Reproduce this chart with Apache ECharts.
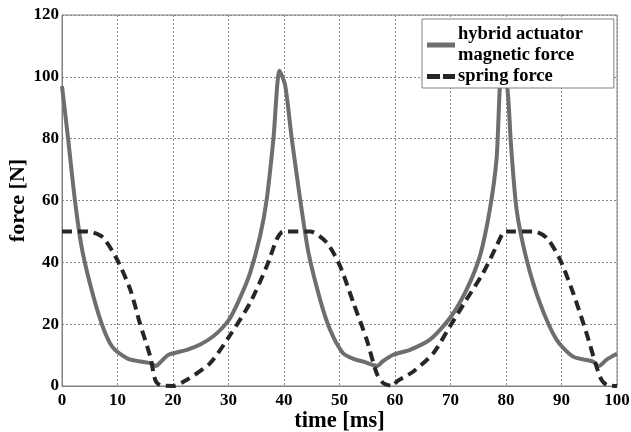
<!DOCTYPE html>
<html>
<head>
<meta charset="utf-8">
<script src="https://cdn.jsdelivr.net/npm/echarts@6/dist/echarts.min.js"></script>
<style>
html,body{margin:0;padding:0;background:#fff;}
#chart{width:631px;height:432px;}
</style>
</head>
<body>
<div id="chart"></div>
<script>
// ---- data ----
const seriesNames = ['hybrid actuator\nmagnetic force', 'spring force'];
const xTicks = [0, 10, 20, 30, 40, 50, 60, 70, 80, 90, 100];
const yTicks = [0, 20, 40, 60, 80, 100, 120];

const magTime = [0, 1.1, 2.3, 3.5, 5.0, 7.1, 9.0, 11.7, 13.8, 15.9, 16.9, 18.0, 19.2, 22.5, 25.0, 27.2, 29.0, 30.3, 32.2, 33.9, 35.7, 36.9, 38.1, 39.2, 40.2, 41.4, 42.9, 44.4, 46.5, 48.3, 50.6, 52.5, 54.3, 56.8, 57.8, 59.7, 62.7, 66.3, 69.9, 72.9, 75.3, 77.1, 78.3, 79.2, 80.2, 80.9, 81.9, 83.7, 86.1, 89.1, 92.1, 95.7, 96.7, 98.2, 100];
const magForce = [97, 80, 60.5, 45.3, 33.4, 20.4, 12.8, 9.0, 8.0, 7.4, 6.5, 8.2, 10.1, 11.7, 13.5, 16.0, 19.0, 22.0, 29.0, 36.6, 48.6, 60.5, 80.0, 102.0, 97.3, 80.0, 60.5, 43.2, 28.0, 18.2, 10.7, 8.8, 7.9, 6.5, 8.0, 10.1, 11.7, 15.0, 22.0, 31.2, 42.0, 57.2, 73.5, 101.5, 97.0, 78.0, 57.2, 41.0, 26.9, 15.0, 9.5, 7.9, 6.4, 8.6, 10.4];

const springTime = [0, 4.0, 5.5, 7.4, 9.9, 12.3, 14.0, 15.9, 16.8, 17.7, 20.0, 22.5, 26.7, 30.3, 33.9, 36.9, 38.7, 39.6, 40.2, 44.7, 47.7, 50.1, 52.5, 54.9, 56.7, 57.9, 59.7, 60.3, 63.3, 66.9, 69.9, 72.9, 75.9, 78.3, 79.5, 80.1, 84.9, 87.3, 89.7, 92.1, 94.5, 96.3, 97.2, 98.2, 100];
const springForce = [50, 50, 49.7, 48.0, 41.0, 31.2, 20.5, 9.5, 2.0, 0.3, 0, 2.0, 7.4, 16.5, 26.9, 38.8, 47.5, 49.8, 50, 50, 46.4, 38.8, 26.9, 15.0, 4.1, 0.9, 0, 1.4, 4.7, 10.6, 19.3, 28.0, 36.6, 45.3, 49.7, 50, 50, 48.0, 41.0, 30.1, 17.1, 6.3, 2.0, 0.3, 0];

const magData = magTime.map((t, i) => [t, magForce[i]]);
const springData = springTime.map((t, i) => [t, springForce[i]]);

const FONT = '"Liberation Serif", "DejaVu Serif", serif';
const chart = echarts.init(document.getElementById('chart'), null, {renderer: 'canvas'});
chart.setOption({
  animation: false,
  backgroundColor: '#fff',
  grid: {left: 62, right: 14, top: 15, bottom: 46, show: true, borderColor: '#808080', borderWidth: 1, backgroundColor: 'transparent', containLabel: false, outerBoundsMode: 'none'},
  legend: {
    left: 422, top: 19,
    orient: 'vertical',
    backgroundColor: '#fff',
    borderColor: '#808080', borderWidth: 1, borderRadius: 0,
    padding: [5, 31, 1, 5],
    itemGap: 0,
    itemWidth: 28, itemHeight: 5,
    textStyle: {fontFamily: FONT, fontWeight: 'bold', fontSize: 18.5, color: '#000', lineHeight: 21, padding: [0,0,0,-2]},
    data: [
      {name: seriesNames[0], icon: 'path://M0,0L28,0L28,5L0,5Z'},
      {name: seriesNames[1], icon: 'path://M0,0L13,0L13,5L0,5Z M16,0L28,0L28,5L16,5Z'}
    ]
  },
  xAxis: {
    type: 'value', min: 0, max: 100, interval: 10,
    name: 'time [ms]', nameLocation: 'middle', nameGap: 24, nameMoveOverlap: false,
    nameTextStyle: {fontFamily: FONT, fontWeight: 'bold', fontSize: 22.5, color: '#000'},
    axisLine: {show: true, lineStyle: {color: '#808080', width: 1}},
    axisTick: {show: false},
    axisLabel: {fontFamily: FONT, fontWeight: 'bold', fontSize: 17, color: '#000', margin: 6},
    splitLine: {show: true, lineStyle: {color: '#888', width: 1, type: [2, 2]}}
  },
  yAxis: {
    type: 'value', min: 0, max: 120, interval: 20,
    name: 'force [N]', nameLocation: 'middle', nameGap: 33, nameMoveOverlap: false,
    nameTextStyle: {fontFamily: FONT, fontWeight: 'bold', fontSize: 22, color: '#000'},
    axisLine: {show: true, lineStyle: {color: '#808080', width: 1}},
    axisTick: {show: false},
    axisLabel: {fontFamily: FONT, fontWeight: 'bold', fontSize: 17, color: '#000', margin: 3},
    splitLine: {show: true, lineStyle: {color: '#888', width: 1, type: [2, 2]}}
  },
  series: [
    {
      name: seriesNames[0], type: 'line', data: magData,
      symbol: 'none', showSymbol: false, smooth: 0.25,
      lineStyle: {color: '#6e6e6e', width: 4},
      itemStyle: {color: '#6e6e6e'}
    },
    {
      name: seriesNames[1], type: 'line', data: springData,
      symbol: 'none', showSymbol: false, smooth: 0.25,
      lineStyle: {color: '#262626', width: 4, type: [10, 6]},
      itemStyle: {color: '#262626'}
    }
  ]
});
</script>
</body>
</html>
